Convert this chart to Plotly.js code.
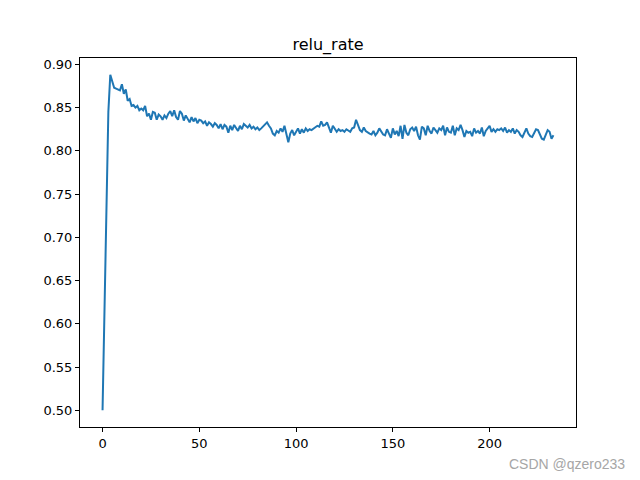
<!DOCTYPE html>
<html>
<head>
<meta charset="utf-8">
<script src="https://cdn.plot.ly/plotly-3.0.1.min.js"></script>
<style>html,body{margin:0;padding:0;background:#fff;}#chart{width:640px;height:480px;}</style>
</head>
<body>
<div id="chart"></div>
<script>
const reluRate = [
0.500, 0.610, 0.700, 0.845, 0.888, 0.880, 0.873, 0.872, 0.871, 0.870,
0.877, 0.866, 0.871, 0.858, 0.860, 0.852, 0.853, 0.850, 0.852, 0.847,
0.849, 0.847, 0.852, 0.840, 0.843, 0.836, 0.845, 0.844, 0.836, 0.842,
0.840, 0.836, 0.841, 0.838, 0.843, 0.846, 0.840, 0.847, 0.839, 0.836,
0.846, 0.843, 0.835, 0.841, 0.837, 0.833, 0.839, 0.834, 0.838, 0.832,
0.836, 0.835, 0.832, 0.834, 0.829, 0.833, 0.831, 0.828, 0.832, 0.830,
0.826, 0.831, 0.825, 0.830, 0.828, 0.821, 0.829, 0.824, 0.830, 0.826,
0.823, 0.829, 0.825, 0.831, 0.829, 0.827, 0.830, 0.826, 0.828, 0.825,
0.827, 0.824, 0.826, 0.828, 0.831, 0.833, 0.829, 0.826, 0.820, 0.818,
0.823, 0.821, 0.826, 0.822, 0.829, 0.819, 0.810, 0.820, 0.824, 0.818,
0.822, 0.826, 0.820, 0.825, 0.821, 0.826, 0.823, 0.825, 0.824, 0.826,
0.827, 0.829, 0.828, 0.834, 0.829, 0.830, 0.833, 0.826, 0.821, 0.829,
0.826, 0.822, 0.825, 0.823, 0.824, 0.822, 0.825, 0.823, 0.822, 0.826,
0.827, 0.836, 0.830, 0.824, 0.822, 0.827, 0.823, 0.821, 0.820, 0.819,
0.823, 0.818, 0.821, 0.826, 0.822, 0.819, 0.818, 0.825, 0.820, 0.815,
0.826, 0.819, 0.823, 0.817, 0.829, 0.814, 0.830, 0.821, 0.818, 0.825,
0.827, 0.823, 0.828, 0.818, 0.813, 0.828, 0.826, 0.818, 0.829, 0.823,
0.820, 0.827, 0.824, 0.821, 0.826, 0.824, 0.829, 0.818, 0.827, 0.822,
0.821, 0.829, 0.818, 0.826, 0.824, 0.830, 0.824, 0.816, 0.823, 0.821,
0.822, 0.817, 0.826, 0.821, 0.823, 0.820, 0.827, 0.817, 0.823, 0.826,
0.829, 0.822, 0.825, 0.822, 0.825, 0.824, 0.826, 0.823, 0.827, 0.821,
0.824, 0.822, 0.826, 0.820, 0.824, 0.822, 0.818, 0.816, 0.822, 0.826,
0.820, 0.817, 0.816, 0.820, 0.825, 0.824, 0.818, 0.814, 0.813, 0.818,
0.824, 0.822, 0.814, 0.818
];
const steps = reluRate.map((_, i) => i);
const xTicks = [0, 50, 100, 150, 200];
const yTicks = [0.50, 0.55, 0.60, 0.65, 0.70, 0.75, 0.80, 0.85, 0.90];
const titleText = "relu_rate";
const watermark = "CSDN @qzero233";

const n = steps.length - 1;
const ymin = Math.min(...reluRate), ymax = Math.max(...reluRate);
const xpad = 0.05 * n, ypad = 0.05 * (ymax - ymin);

const axisCommon = {
  showline: true, mirror: true, linecolor: '#000', linewidth: 1,
  ticks: 'outside', ticklen: 4, tickwidth: 1, tickcolor: '#000',
  showgrid: false, zeroline: false,
  tickfont: {family: 'DejaVu Sans', size: 13, color: '#000'}
};

Plotly.newPlot('chart', [{
  x: steps, y: reluRate, type: 'scatter', mode: 'lines',
  line: {color: '#1f77b4', width: 2}
}], {
  width: 640, height: 480,
  paper_bgcolor: '#fff', plot_bgcolor: '#fff',
  margin: {l: 80, r: 64, t: 58, b: 53},
  showlegend: false,
  title: {text: titleText, x: 0.5125, xanchor: 'center', y: 0.908, yanchor: 'middle',
          font: {family: 'DejaVu Sans', size: 16, color: '#000'}},
  xaxis: Object.assign({}, axisCommon, {range: [-xpad, n + xpad], tickvals: xTicks, ticktext: xTicks.map(String)}),
  yaxis: Object.assign({}, axisCommon, {range: [ymin - ypad, ymax + ypad], tickvals: yTicks, ticktext: yTicks.map(v => v.toFixed(2))}),
  annotations: [{
    text: watermark, xref: 'paper', yref: 'paper', x: 1.103, y: -0.072,
    xanchor: 'right', yanchor: 'top', showarrow: false,
    font: {family: 'Liberation Sans', size: 14, color: '#a6a6a6'}
  }]
}, {displayModeBar: false, staticPlot: true});
</script>
</body>
</html>
